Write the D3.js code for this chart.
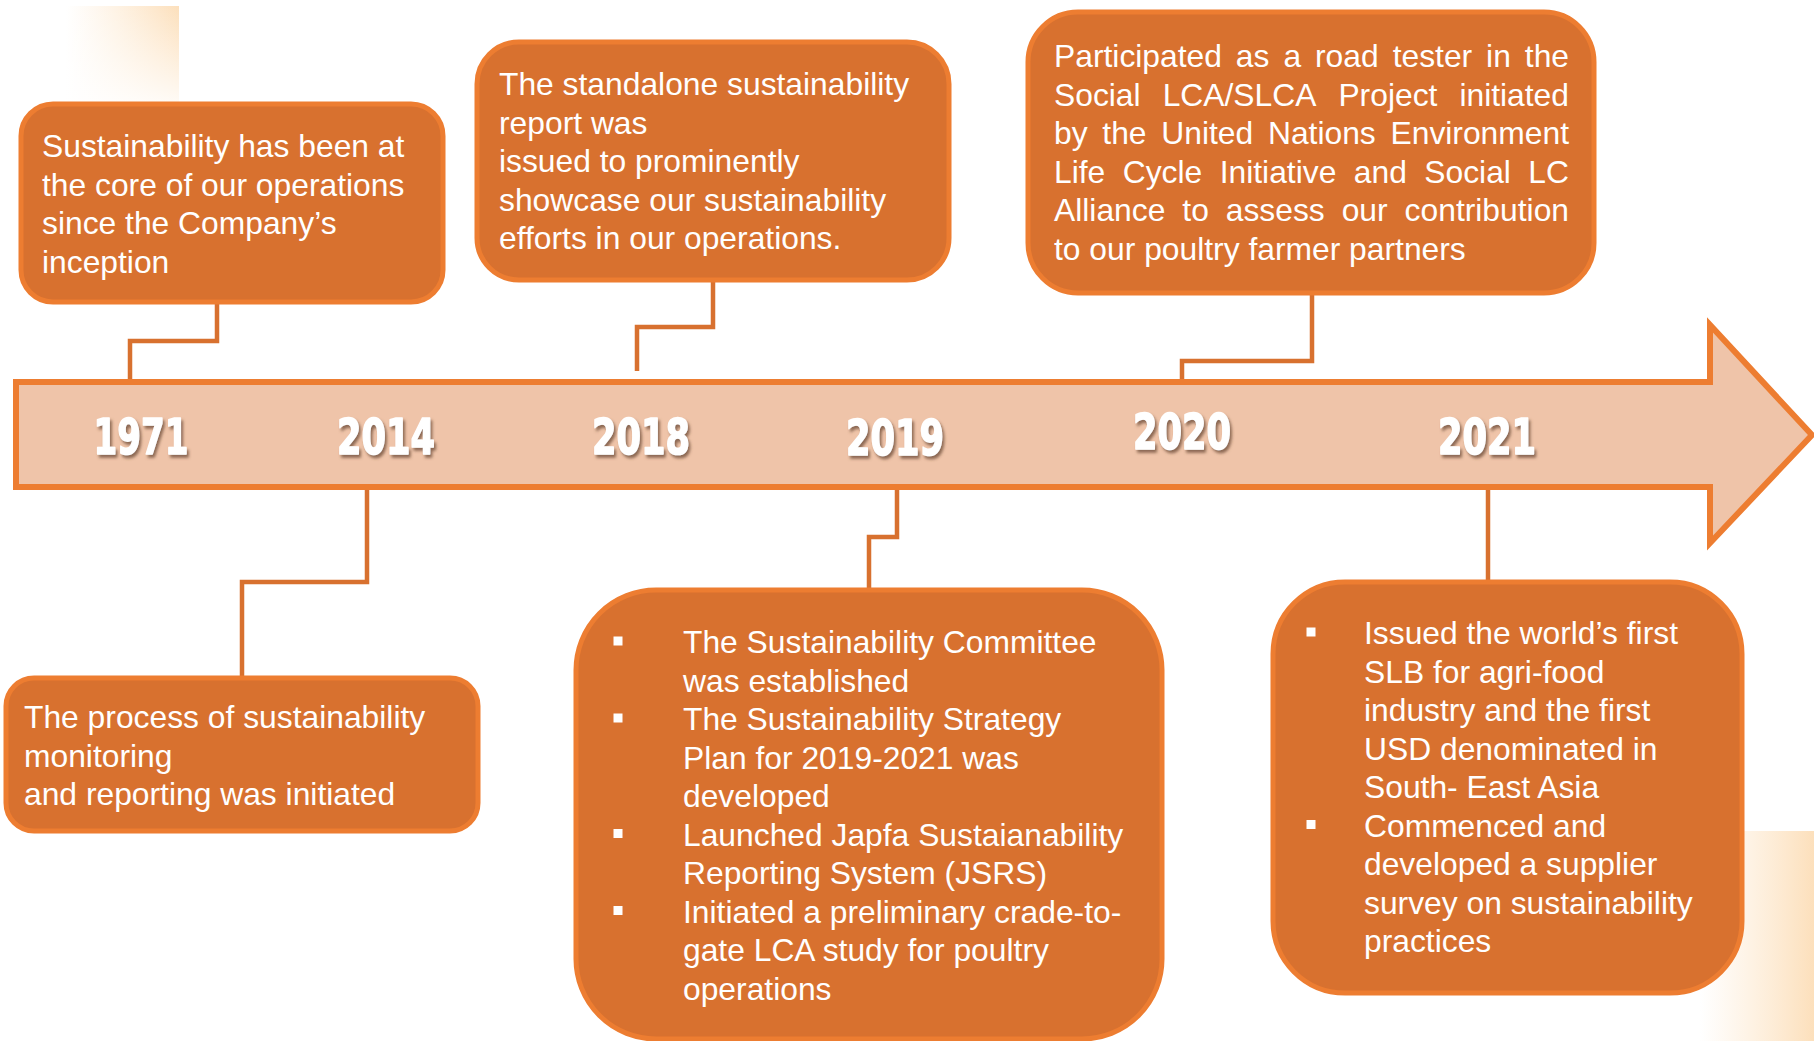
<!DOCTYPE html>
<html>
<head>
<meta charset="utf-8">
<script src="https://cdn.jsdelivr.net/npm/d3@7"></script>
<style>
    html, body { margin: 0; padding: 0; background: #ffffff; }
    svg { display: block; }
    .box-text { font-family: "Liberation Sans", Arial, Helvetica, sans-serif; font-size: 31.8px; fill: #ffffff; }
    .year { font-family: "DejaVu Sans", sans-serif; font-weight: bold; font-size: 49px; fill: #ffffff;
            stroke: #ffffff; stroke-width: 1.6px; stroke-linejoin: round; }
</style>
</head>
<body>
<div id="timeline"></div>
<script>

// ---- timeline data ----
const years = ["1971", "2014", "2018", "2019", "2020", "2021"];

const text1971 = [["Sustainability has been at", "the core of our operations", "since the Company’s", "inception"]];
const text2014 = [["The process of sustainability", "monitoring", "and reporting was initiated"]];
const text2018 = [["The standalone sustainability", "report was", "issued to prominently",
    "showcase our sustainability", "efforts in our operations."]];
const text2019 = [
    ["The Sustainability Committee", "was established"],
    ["The Sustainability Strategy", "Plan for 2019-2021 was", "developed"],
    ["Launched Japfa Sustaianability", "Reporting System (JSRS)"],
    ["Initiated a preliminary crade-to-", "gate LCA study for poultry", "operations"]
];
const text2020 = [["Participated as a road tester in the", "Social LCA/SLCA Project initiated",
    "by the United Nations Environment", "Life Cycle Initiative and Social LC",
    "Alliance to assess our contribution", "to our poultry farmer partners"]];
const text2021 = [
    ["Issued the world’s first", "SLB for agri-food", "industry and the first", "USD denominated in", "South- East Asia"],
    ["Commenced and", "developed a supplier", "survey on sustainability", "practices"]
];

const eventTexts = [text1971, text2014, text2018, text2019, text2020, text2021];
const bulleted = [false, false, false, true, false, true];
const justified = [false, false, false, false, true, false];


class Timeline {

    constructor(parentElement) {
        this.parentElement = parentElement;
        this.initVis();
    }

    initVis() {
        let vis = this;
        vis.width = 1814;
        vis.height = 1041;
        vis.lineHeight = 38.5;

        // layout of the page (pixels)
        vis.labelX = [141, 386, 641, 895, 1182, 1487];
        vis.labelY = [454, 454, 454, 455, 449, 454];
        // [x, y, w, h, corner radius]
        vis.boxGeom = [
            [21, 104, 422, 198, 32],
            [6, 678, 472, 153, 28],
            [477, 42, 472, 238, 42],
            [576, 590, 586, 449, 80],
            [1028, 12, 566, 281, 50],
            [1273, 582, 469, 411, 72]
        ];
        // [text x, first baseline, bullet x]
        vis.textGeom = [
            [42, 157], [24, 728], [499, 95], [683, 653, 618], [1054, 67, 0, 1569], [1364, 644, 1311]
        ];
        // elbow connectors [xa, ya, yMid, xb, yb]
        vis.linkGeom = [
            [217, 302, 341, 130, 382],
            [367, 487, 582, 242, 678],
            [713, 280, 327, 637, 371],
            [897, 487, 537, 869, 590],
            [1312, 293, 361, 1182, 382],
            [1488, 487, 582, 1488, 582]
        ];

        vis.xScale = d3.scaleOrdinal().domain(years).range(vis.labelX);
        vis.yScale = d3.scaleOrdinal().domain(years).range(vis.labelY);

        vis.svg = d3.select("#" + vis.parentElement).append("svg")
            .attr("width", vis.width)
            .attr("height", vis.height);

        let defs = vis.svg.append("defs");

        let shadow = defs.append("filter").attr("id", "yearShadow")
            .attr("x", "-20%").attr("y", "-20%").attr("width", "140%").attr("height", "150%");
        shadow.append("feDropShadow")
            .attr("dx", 2).attr("dy", 3).attr("stdDeviation", 1.4)
            .attr("flood-color", "#6b4a36").attr("flood-opacity", 0.75);

        // soft peach glows in the corners
        let g1 = defs.append("linearGradient").attr("id", "glowH")
            .attr("x1", "0%").attr("x2", "100%").attr("y1", "0%").attr("y2", "0%");
        g1.append("stop").attr("offset", "0%").attr("stop-color", "#fde3c2").attr("stop-opacity", 0);
        g1.append("stop").attr("offset", "100%").attr("stop-color", "#fcdcb4").attr("stop-opacity", 0.9);
        let g2 = defs.append("linearGradient").attr("id", "fadeV")
            .attr("x1", "0%").attr("x2", "0%").attr("y1", "0%").attr("y2", "100%");
        g2.append("stop").attr("offset", "0%").attr("stop-color", "#ffffff").attr("stop-opacity", 0);
        g2.append("stop").attr("offset", "100%").attr("stop-color", "#ffffff").attr("stop-opacity", 0.85);

        vis.svg.append("rect").attr("x", 66).attr("y", 6).attr("width", 113).attr("height", 96)
            .attr("fill", "url(#glowH)");
        vis.svg.append("rect").attr("x", 66).attr("y", 6).attr("width", 113).attr("height", 96)
            .attr("fill", "url(#fadeV)");
        vis.svg.append("rect").attr("x", 1700).attr("y", 831).attr("width", 114).attr("height", 210)
            .attr("fill", "url(#glowH)");

        vis.drawLinks();
        vis.drawArrow();
        vis.drawBoxes();
    }

    drawLinks() {
        let vis = this;
        vis.svg.append("g").attr("class", "links")
            .selectAll("path")
            .data(years)
            .enter()
            .append("path")
            .attr("d", (d, i) => {
                let p = vis.linkGeom[i];
                let path = d3.path();
                path.moveTo(p[0], p[1]);
                path.lineTo(p[0], p[2]);
                path.lineTo(p[3], p[2]);
                path.lineTo(p[3], p[4]);
                return path.toString();
            })
            .attr("fill", "none")
            .attr("stroke", "#d8712f")
            .attr("stroke-width", 4.5);
    }

    drawArrow() {
        let vis = this;
        let p = d3.path();
        p.moveTo(16, 382);
        p.lineTo(1710, 382);
        p.lineTo(1710, 325);
        p.lineTo(1812, 435);
        p.lineTo(1710, 543);
        p.lineTo(1710, 487);
        p.lineTo(16, 487);
        p.closePath();

        vis.svg.append("path")
            .attr("d", p.toString())
            .attr("fill", "#efc4a9")
            .attr("stroke", "#ed7d31")
            .attr("stroke-width", 6)
            .attr("stroke-linejoin", "miter");

        vis.svg.append("g").attr("class", "years")
            .selectAll("text")
            .data(years)
            .enter()
            .append("text")
            .attr("class", "year")
            .attr("x", d => vis.xScale(d))
            .attr("y", d => vis.yScale(d))
            .attr("text-anchor", "middle")
            .attr("textLength", (d, i) => i === 0 ? 95 : 98)
            .attr("lengthAdjust", "spacingAndGlyphs")
            .attr("filter", "url(#yearShadow)")
            .text(d => d);
    }

    drawBoxes() {
        let vis = this;

        let groups = vis.svg.append("g").attr("class", "boxes")
            .selectAll("g")
            .data(years)
            .enter()
            .append("g");

        groups.append("rect")
            .attr("x", (d, i) => vis.boxGeom[i][0])
            .attr("y", (d, i) => vis.boxGeom[i][1])
            .attr("width", (d, i) => vis.boxGeom[i][2])
            .attr("height", (d, i) => vis.boxGeom[i][3])
            .attr("rx", (d, i) => vis.boxGeom[i][4])
            .attr("fill", "#d8712f")
            .attr("stroke", "#ed7d31")
            .attr("stroke-width", 5);

        groups.each(function (d, i) {
            let g = d3.select(this);
            let tg = vis.textGeom[i];
            let items = eventTexts[i];
            let lineNo = 0;

            items.forEach(item => {
                if (bulleted[i]) {
                    let by = tg[1] + lineNo * vis.lineHeight - 12;
                    g.append("rect")
                        .attr("x", tg[2] - 4.5)
                        .attr("y", by - 4.5)
                        .attr("width", 9)
                        .attr("height", 9)
                        .attr("fill", "#ffffff");
                }
                item.forEach((line, k) => {
                    let y = tg[1] + lineNo * vis.lineHeight;
                    let isLast = k === item.length - 1;
                    if (justified[i] && !isLast) {
                        vis.justifyLine(g, line, tg[0], tg[3], y);
                    } else {
                        g.append("text")
                            .attr("class", "box-text")
                            .attr("x", tg[0])
                            .attr("y", y)
                            .text(line);
                    }
                    lineNo++;
                });
            });
        });
    }

    // spread words of one line between x0 and x1
    justifyLine(g, line, x0, x1, y) {
        let words = line.split(" ");
        let widths = words.map(w => {
            let t = g.append("text").attr("class", "box-text").text(w);
            let len = t.node().getComputedTextLength();
            t.remove();
            return len;
        });
        let total = d3.sum(widths);
        let gap = (x1 - x0 - total) / (words.length - 1);
        let x = x0;
        words.forEach((w, j) => {
            g.append("text")
                .attr("class", "box-text")
                .attr("x", x)
                .attr("y", y)
                .text(w);
            x += widths[j] + gap;
        });
    }
}

new Timeline("timeline");

</script>
</body>
</html>
